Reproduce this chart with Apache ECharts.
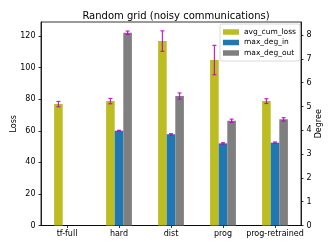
<!DOCTYPE html>
<html><head><meta charset="utf-8">
<script src="https://cdn.jsdelivr.net/npm/echarts@6/dist/echarts.min.js"></script>
<style>html,body{margin:0;padding:0;background:#fff}#c{width:332px;height:249px}</style>
</head><body><div id="c"></div>
<script>
var categories = ['tf-full', 'hard', 'dist', 'prog', 'prog-retrained'];
var avgCumLoss = [76.9, 78.8, 116.8, 104.8, 78.8];
var avgCumLossErr = [1.7, 1.7, 6.5, 9.3, 1.5];
var maxDegIn = [null, 3.98, 3.83, 3.45, 3.48];
var maxDegInErr = [null, 0.02, 0.03, 0.03, 0.03];
var maxDegOut = [null, 8.10, 5.44, 4.40, 4.46];
var maxDegOutErr = [null, 0.07, 0.13, 0.07, 0.07];
var lossTicks = [0, 20, 40, 60, 80, 100, 120];
var degreeTicks = [0, 1, 2, 3, 4, 5, 6, 7, 8];

var FONT = 'DejaVu Sans';
var BW = 8.6;
var ERRC = '#c000c8';

function errSeries(name, vals, errs, yIdx, offset) {
  var data = [];
  for (var i = 0; i < vals.length; i++) {
    if (vals[i] != null) data.push([i, vals[i], errs[i]]);
  }
  return {
    type: 'custom', name: name + '_err', yAxisIndex: yIdx, z: 10,
    data: data,
    renderItem: function (params, api) {
      var x = api.value(0), v = api.value(1), e = api.value(2);
      var hi = api.coord([x, v + e]);
      var lo = api.coord([x, v - e]);
      var px = hi[0] + offset;
      var cw = 2;
      var st = { stroke: ERRC, lineWidth: 1.2, opacity: 0.85 };
      return {
        type: 'group', children: [
          { type: 'line', shape: { x1: px, y1: hi[1], x2: px, y2: lo[1] }, style: st },
          { type: 'line', shape: { x1: px - cw, y1: hi[1], x2: px + cw, y2: hi[1] }, style: st },
          { type: 'line', shape: { x1: px - cw, y1: lo[1], x2: px + cw, y2: lo[1] }, style: st }
        ]
      };
    }
  };
}

var chart = echarts.init(document.getElementById('c'), null, { renderer: 'canvas' });
var axisLine = { show: true, lineStyle: { color: '#000', width: 0.8 } };
var tick = { show: true, length: 2.5, lineStyle: { color: '#000', width: 0.8 } };
var lblY = { color: '#000', fontSize: 8, fontFamily: FONT, margin: 5.5 };
var lblX = { color: '#000', fontSize: 8, fontFamily: FONT, margin: 4.5, interval: 0 };
chart.setOption({
  animation: false,
  textStyle: { fontFamily: FONT },
  title: {
    text: 'Random grid (noisy communications)', left: 171, top: 6, textAlign: 'center',
    textStyle: { fontSize: 10, fontWeight: 'normal', color: '#000', fontFamily: FONT }
  },
  legend: {
    orient: 'vertical', left: 220, top: 24, padding: [3.5, 4, 3.5, 3],
    backgroundColor: '#fff', borderColor: '#d0d0d0', borderWidth: 0.8, borderRadius: 2,
    itemWidth: 16, itemHeight: 5.5, itemGap: 1.5, icon: 'rect',
    data: ['avg_cum_loss', 'max_deg_in', 'max_deg_out'],
    textStyle: { fontSize: 7.5, color: '#000', fontFamily: FONT, lineHeight: 9 }
  },
  grid: { left: 41, right: 31, top: 22, bottom: 23.5, show: true, borderColor: '#000', borderWidth: 0.8 },
  xAxis: {
    type: 'category', data: categories,
    axisLine: axisLine, axisTick: Object.assign({ alignWithLabel: true }, tick),
    axisLabel: lblX, splitLine: { show: false }
  },
  yAxis: [
    {
      type: 'value', min: 0, max: 128.9, name: 'Loss', nameLocation: 'middle', nameGap: 23.5,
      nameMoveOverlap: false,
      nameTextStyle: { fontSize: 8, color: '#000', fontFamily: FONT },
      axisLine: axisLine,
      axisTick: Object.assign({ customValues: lossTicks }, tick),
      axisLabel: Object.assign({ customValues: lossTicks }, lblY),
      splitLine: { show: false }
    },
    {
      type: 'value', min: 0, max: 8.55, name: 'Degree', nameLocation: 'middle', nameGap: 13.5,
      nameMoveOverlap: false,
      position: 'right',
      nameTextStyle: { fontSize: 8, color: '#000', fontFamily: FONT },
      axisLine: axisLine,
      axisTick: Object.assign({ customValues: degreeTicks }, tick),
      axisLabel: Object.assign({ customValues: degreeTicks }, lblY),
      splitLine: { show: false }
    }
  ],
  series: [
    { name: 'avg_cum_loss', type: 'bar', yAxisIndex: 0, data: avgCumLoss, barWidth: BW, barGap: '0%',
      itemStyle: { color: '#bcbd22' } },
    { name: 'max_deg_in', type: 'bar', yAxisIndex: 1, data: maxDegIn, barWidth: BW, barGap: '0%',
      itemStyle: { color: '#1f77b4' } },
    { name: 'max_deg_out', type: 'bar', yAxisIndex: 1, data: maxDegOut, barWidth: BW, barGap: '0%',
      itemStyle: { color: '#7f7f7f' } },
    errSeries('avg_cum_loss', avgCumLoss, avgCumLossErr, 0, -BW),
    errSeries('max_deg_in', maxDegIn, maxDegInErr, 1, 0),
    errSeries('max_deg_out', maxDegOut, maxDegOutErr, 1, BW)
  ]
});
</script></body></html>
